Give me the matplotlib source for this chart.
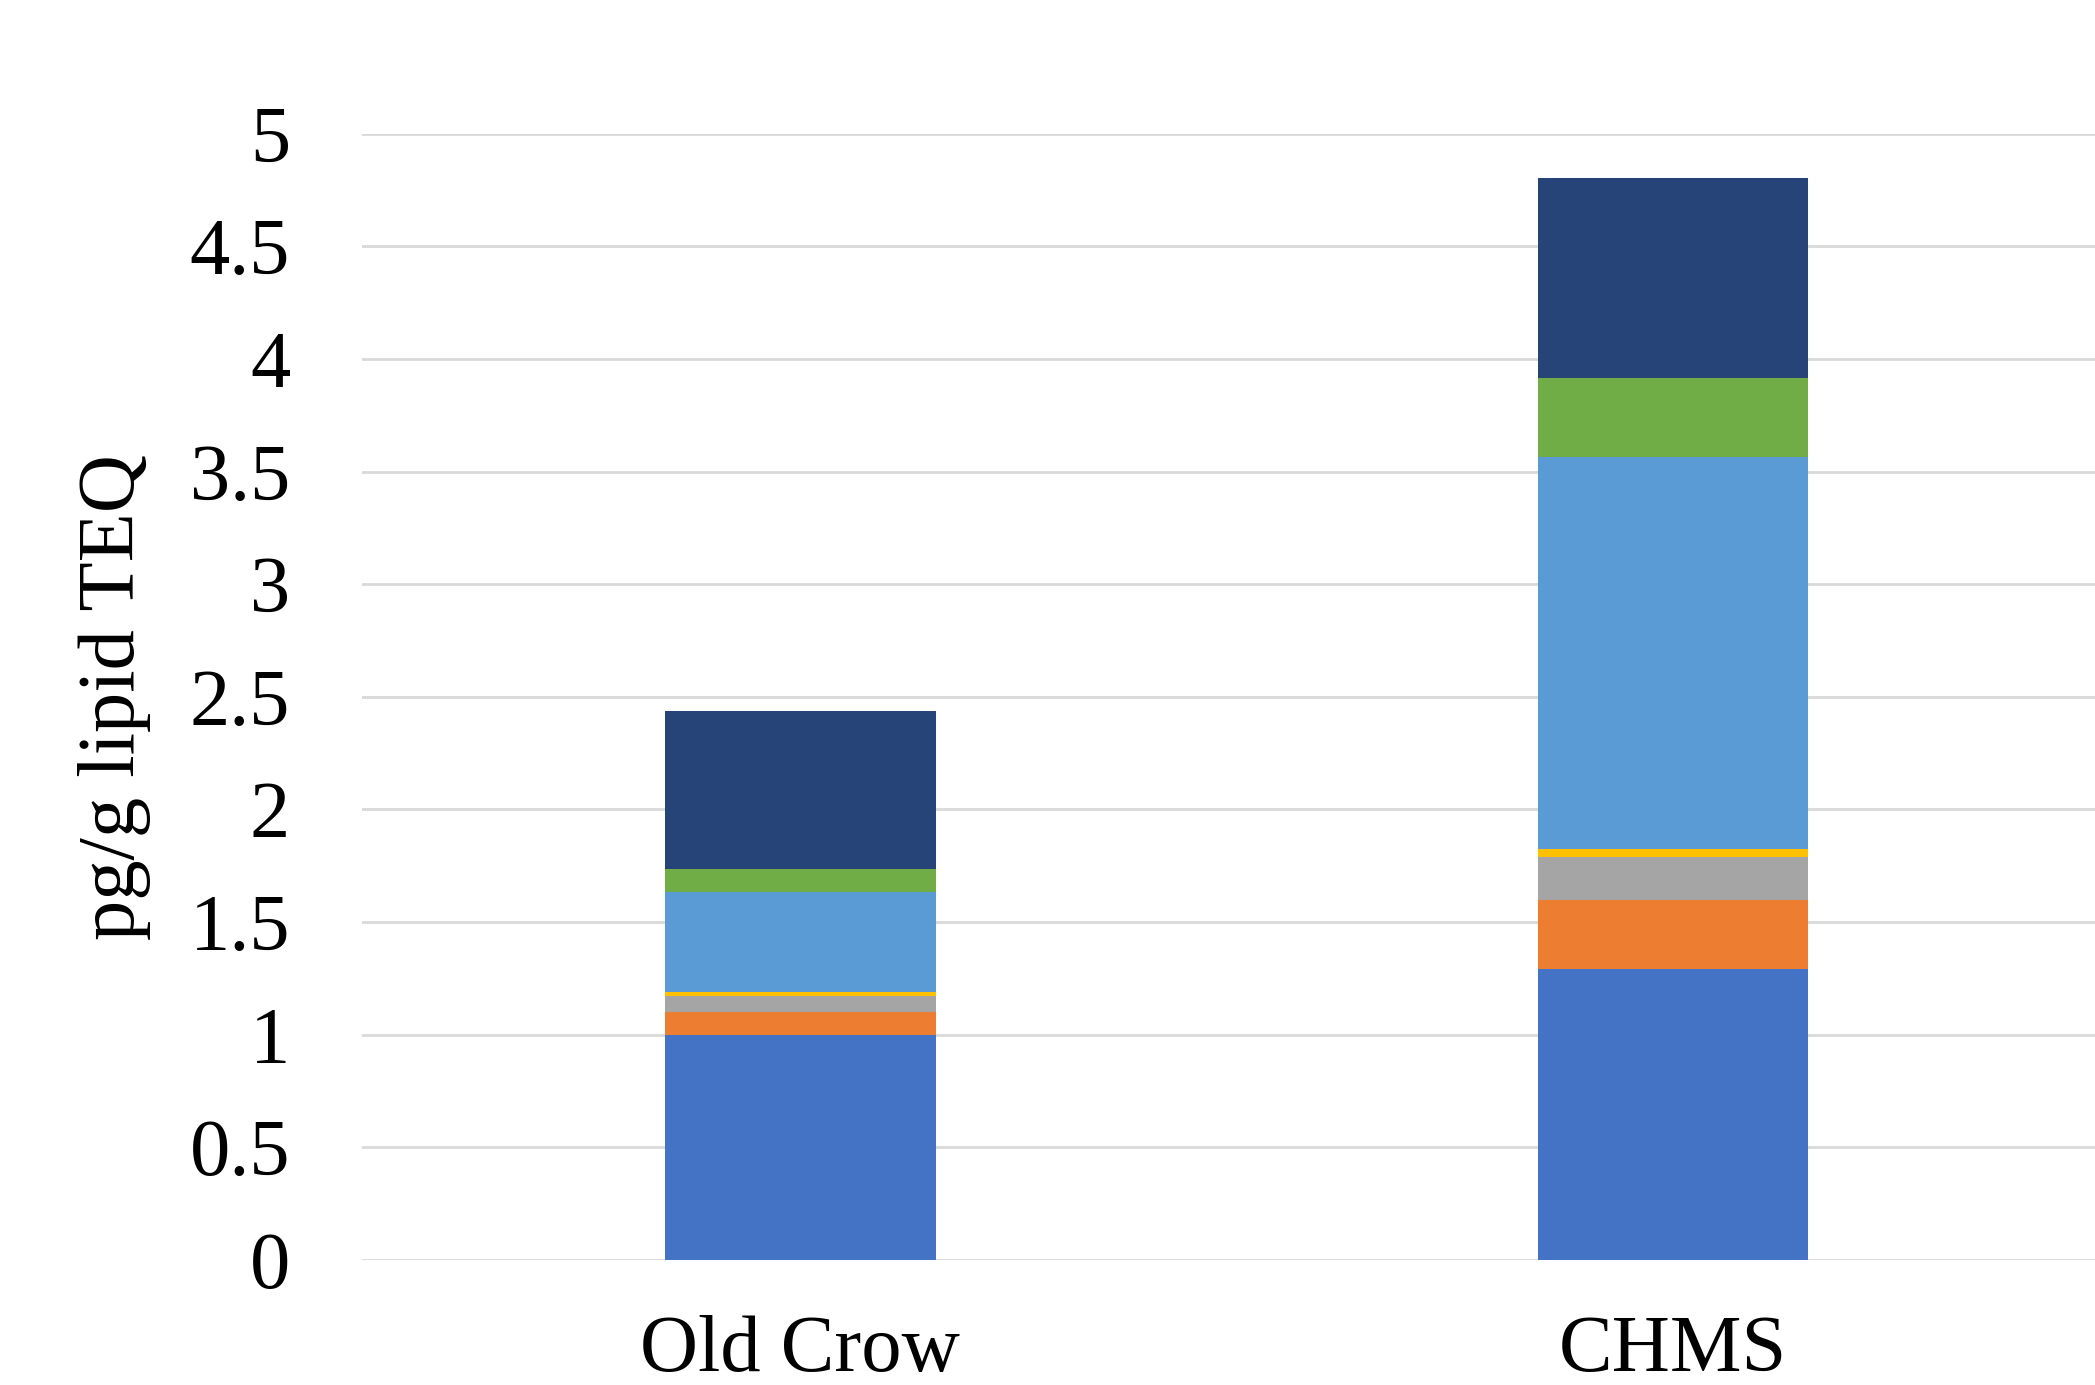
import numpy as np
import matplotlib.pyplot as plt

plt.rcParams['font.family'] = ['Liberation Serif', 'DejaVu Serif']

sites = ['Old Crow', 'CHMS']
# stacked components (bottom to top), pg/g lipid TEQ
seg1 = [1.00, 1.29]
seg2 = [0.10, 0.31]
seg3 = [0.07, 0.19]
seg4 = [0.02, 0.035]
seg5 = [0.445, 1.74]
seg6 = [0.10, 0.35]
seg7 = [0.70, 0.89]
colors = ['#4472C4', '#ED7D31', '#A5A5A5', '#FFC000', '#5B9BD5', '#70AD47', '#264478']

fig = plt.figure(figsize=(20.95, 13.85), dpi=100)
ax = fig.add_axes([0.173, 0.0903, 0.827, 0.8132])

x = np.arange(len(sites))
bottom = np.zeros(len(sites))
for vals, c in zip([seg1, seg2, seg3, seg4, seg5, seg6, seg7], colors):
    ax.bar(x, vals, 0.31, bottom=bottom, color=c, zorder=3)
    bottom += np.array(vals)

ax.set_xlim(-0.502, 1.484)
ax.set_ylim(0, 5)
ax.set_yticks(np.arange(0, 5.01, 0.5))
ax.set_yticklabels(['0', '0.5', '1', '1.5', '2', '2.5', '3', '3.5', '4', '4.5', '5'])
ax.set_xticks(x)
ax.set_xticklabels(sites)
ax.grid(axis='y', color='#D9D9D9', linewidth=2, zorder=0)
for s in ax.spines.values():
    s.set_visible(False)
ax.tick_params(axis='both', length=0, labelsize=58)
ax.tick_params(axis='y', pad=52)
ax.tick_params(axis='x', pad=40)
ax.set_ylabel('pg/g lipid TEQ', fontsize=58, labelpad=28)

fig.savefig('out.png', dpi=100)
